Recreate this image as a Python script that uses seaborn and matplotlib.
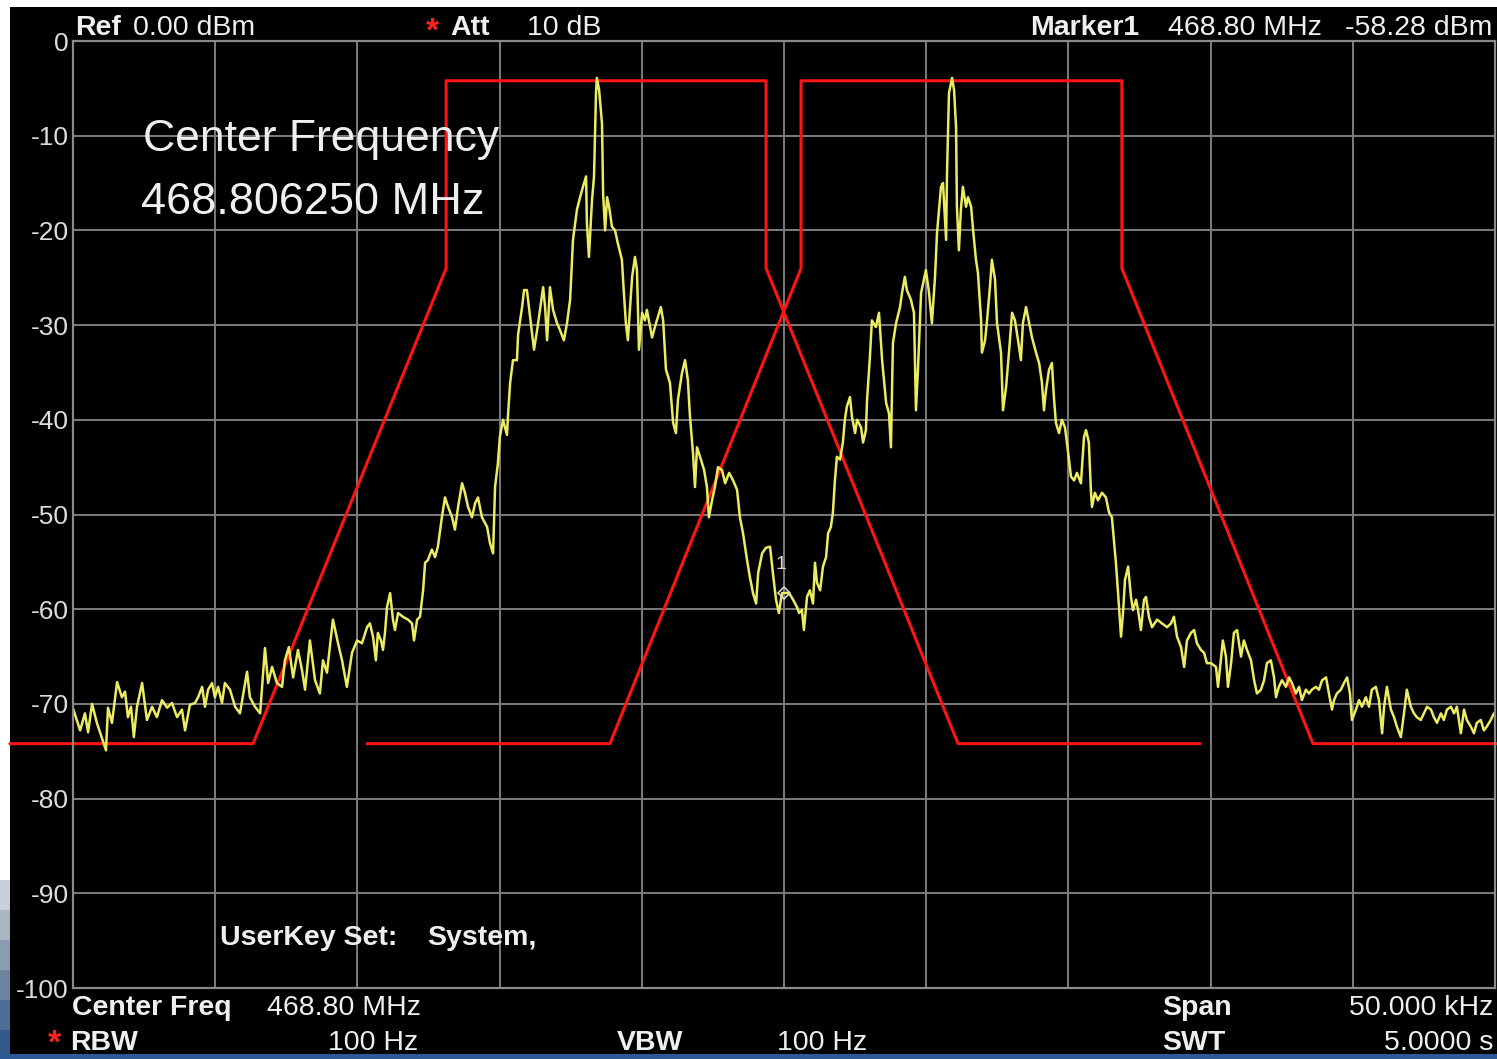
import matplotlib
matplotlib.use("Agg")
import numpy as np
import matplotlib.pyplot as plt
from matplotlib import font_manager
from matplotlib.patches import Rectangle
import seaborn as sns

# ---- measured trace: offset from centre frequency (kHz) and level (dBm) ----
freq_khz = [
    -25.04, -24.75, -24.58, -24.47, -24.33, -24.16, -24.05, -23.84, -23.77, -23.63,
    -23.45, -23.28, -23.17, -23.07, -22.96, -22.86, -22.75, -22.57, -22.40, -22.22,
    -22.05, -21.87, -21.69, -21.52, -21.34, -21.17, -21.06, -20.89, -20.71, -20.60,
    -20.46, -20.36, -20.25, -20.11, -20.01, -19.90, -19.76, -19.66, -19.48, -19.30,
    -19.13, -18.88, -18.78, -18.60, -18.42, -18.25, -18.14, -18.00, -17.83, -17.65,
    -17.55, -17.41, -17.26, -17.09, -16.95, -16.84, -16.67, -16.49, -16.32, -16.21,
    -16.07, -15.86, -15.68, -15.54, -15.37, -15.19, -15.01, -14.84, -14.66, -14.56,
    -14.45, -14.35, -14.28, -14.17, -14.10, -14.03, -13.96, -13.85, -13.75, -13.68,
    -13.57, -13.40, -13.22, -13.08, -13.01, -12.90, -12.80, -12.69, -12.62, -12.52,
    -12.38, -12.27, -12.17, -12.03, -11.92, -11.81, -11.67, -11.57, -11.46, -11.32,
    -11.22, -11.11, -10.97, -10.86, -10.76, -10.62, -10.44, -10.34, -10.23,
    -10.16, -10.06, -9.99, -9.88, -9.74, -9.70, -9.63, -9.53, -9.39, -9.35,
    -9.21, -9.14, -9.04, -8.93, -8.79, -8.68, -8.58, -8.47, -8.40, -8.33,
    -8.23, -8.12, -7.98, -7.88, -7.74, -7.63, -7.52,
    -7.42, -7.28, -7.17, -7.07, -6.96, -6.93, -6.86, -6.75, -6.68, -6.61,
    -6.58, -6.50, -6.40, -6.36, -6.29, -6.22, -6.15, -6.05, -5.94, -5.84,
    -5.70, -5.63, -5.56, -5.49, -5.34, -5.24, -5.17, -5.10, -4.99, -4.89,
    -4.82, -4.64, -4.50, -4.33, -4.25, -4.15, -4.01, -3.90, -3.80, -3.73,
    -3.59, -3.48, -3.38,
    -3.31, -3.20, -3.13, -3.06, -2.92, -2.81, -2.71, -2.64, -2.53, -2.43,
    -2.32, -2.18, -2.07, -1.93, -1.79, -1.65, -1.55, -1.44, -1.30, -1.20,
    -1.09, -0.98, -0.91, -0.77, -0.63, -0.49, -0.39, -0.28, -0.18, -0.07,
    0.00, 0.18, 0.32, 0.46, 0.53, 0.63, 0.70, 0.81, 0.91, 1.02,
    1.09, 1.16, 1.27, 1.37, 1.48, 1.55, 1.65, 1.72, 1.79, 1.86,
    1.97, 2.07, 2.14, 2.21, 2.32, 2.39, 2.50, 2.57, 2.71, 2.78, 2.88,
    2.92, 3.02, 3.09, 3.23, 3.34, 3.45, 3.59, 3.69, 3.76, 3.83,
    3.94, 4.08, 4.15, 4.25, 4.32, 4.46, 4.57, 4.64, 4.71, 4.82,
    4.92, 4.99, 5.10, 5.20, 5.31, 5.38, 5.52, 5.59, 5.70, 5.73,
    5.80, 5.91, 5.98, 6.05, 6.08, 6.15, 6.22, 6.29, 6.40, 6.47,
    6.58, 6.65, 6.75, 6.82, 6.93, 6.96, 7.07, 7.14, 7.24, 7.31,
    7.42, 7.49, 7.63, 7.70, 7.81, 7.91, 8.02, 8.12, 8.23, 8.33,
    8.40, 8.51, 8.62, 8.72, 8.86, 8.97,
    9.07, 9.14, 9.21, 9.32, 9.42, 9.49, 9.56, 9.67, 9.77, 9.88,
    9.98, 10.09, 10.20, 10.30, 10.44, 10.55, 10.62, 10.72, 10.79, 10.83,
    10.93, 11.04, 11.18, 11.32, 11.43, 11.53, 11.60, 11.67, 11.74, 11.85,
    11.92, 11.99, 12.10, 12.20, 12.27, 12.38, 12.45, 12.55, 12.66, 12.73,
    12.83, 12.94, 13.12, 13.29, 13.47, 13.61, 13.71, 13.82, 13.96, 14.07,
    14.17, 14.31, 14.42, 14.52, 14.66, 14.77, 14.87, 15.01,
    15.19, 15.26, 15.36, 15.43, 15.54, 15.61, 15.72, 15.82, 15.93, 16.07,
    16.17, 16.28, 16.42, 16.53, 16.63, 16.77, 16.88, 16.98, 17.12, 17.23,
    17.30, 17.40, 17.51, 17.65, 17.76, 17.86, 18.00, 18.11, 18.21, 18.35,
    18.46, 18.56, 18.70, 18.81, 18.92, 19.06, 19.16, 19.27, 19.34, 19.44,
    19.58, 19.69, 19.80, 19.90, 19.97, 20.11, 20.22, 20.32, 20.46, 20.57,
    20.67, 20.81, 20.92, 21.03, 21.10, 21.20, 21.34, 21.45, 21.55, 21.69,
    21.80, 21.90, 22.04, 22.15, 22.25, 22.39, 22.50, 22.61, 22.75, 22.85,
    22.96, 23.10, 23.20, 23.31, 23.45, 23.56, 23.66, 23.80, 23.91, 24.01,
    24.15, 24.26, 24.36, 24.50, 24.61, 24.71, 24.85, 24.96,
]
level_dbm = [
    -70.1, -72.8, -71.0, -73.0, -70.0, -72.0, -73.0, -74.9, -70.4, -72.0,
    -67.7, -69.3, -68.7, -71.4, -70.3, -73.5, -70.3, -67.8, -71.7, -70.3,
    -71.4, -69.6, -70.4, -69.9, -71.4, -70.6, -72.8, -70.1, -69.9, -69.3,
    -68.2, -70.3, -68.5, -67.8, -69.3, -68.2, -69.9, -67.8, -68.5, -70.3,
    -71.0, -66.6, -69.3, -70.3, -71.0, -64.1, -67.8, -66.1, -67.8, -68.2,
    -65.4, -64.0, -67.2, -64.3, -66.4, -68.5, -63.3, -67.5, -68.9, -65.4,
    -66.7, -61.1, -63.6, -65.4, -68.2, -64.6, -63.3, -63.6, -61.9, -61.5,
    -62.9, -65.4, -62.5, -63.3, -64.3, -62.5, -59.8, -58.3, -61.1, -62.2,
    -60.4, -60.8, -61.1, -61.5, -63.3, -61.1, -60.8, -58.0, -55.1, -54.8,
    -53.7, -54.5, -53.4, -50.3, -48.2, -49.2, -50.3, -51.6, -49.2, -46.7,
    -47.7, -49.2, -50.3, -48.8, -48.2, -50.3, -51.3, -53.0, -54.1,
    -47.1, -44.6, -41.8, -40.0, -41.6, -39.3, -36.1, -33.7, -33.7, -31.0,
    -28.1, -26.3, -26.3, -29.1, -32.6, -30.5, -28.4, -26.0, -28.1, -31.6,
    -26.0, -28.4, -29.8, -30.5, -31.6, -29.8, -27.3,
    -21.0, -17.8, -16.5, -15.4, -14.3, -19.2, -22.8, -16.8, -14.3, -5.5,
    -3.9, -5.2, -8.7, -16.1, -20.0, -16.5, -17.5, -19.6, -20.0, -21.4,
    -23.1, -26.6, -29.8, -31.6, -24.9, -22.8, -24.2, -32.6, -28.7, -29.5,
    -28.4, -31.3, -29.8, -28.1, -29.5, -34.7, -36.1, -40.3, -41.4, -37.9,
    -35.1, -33.7, -35.8,
    -39.5, -43.5, -47.1, -42.9, -44.2, -45.3, -47.1, -50.3, -48.5, -47.1,
    -45.0, -45.3, -46.7, -45.6, -46.4, -47.4, -50.3, -52.0, -54.8, -56.6,
    -58.3, -59.4, -56.2, -54.1, -53.5, -53.4, -56.2, -59.0, -60.4, -58.3,
    -58.28, -58.3, -59.0, -59.8, -60.4, -60.1, -62.2, -58.7, -58.0, -59.4,
    -55.1, -57.2, -58.0, -55.5, -54.5, -52.0, -51.3, -49.8, -46.4, -43.9,
    -44.2, -42.4, -40.0, -38.6, -37.6, -39.7, -41.4, -40.0, -40.8, -42.4, -41.1,
    -37.9, -33.4, -29.5, -30.2, -28.7, -33.7, -38.2, -39.3, -42.9, -31.9,
    -29.8, -28.1, -26.6, -24.9, -26.3, -27.3, -28.7, -39.0, -34.7, -26.6,
    -25.2, -24.2, -26.6, -29.8, -24.9, -20.3, -15.4, -15.0, -21.0, -14.3,
    -5.5, -3.9, -5.2, -9.1, -17.5, -22.1, -17.8, -15.4, -17.5, -16.5,
    -17.5, -20.0, -23.1, -24.5, -29.5, -32.9, -31.6, -29.5, -26.0, -23.1,
    -25.2, -29.8, -32.9, -39.0, -36.5, -32.9, -28.7, -29.5, -31.6, -33.7,
    -29.8, -28.1, -29.8, -31.3, -32.9, -34.0,
    -36.1, -39.0, -36.9, -34.7, -34.0, -37.6, -40.3, -41.4, -40.0, -40.8,
    -43.2, -46.0, -46.4, -45.6, -46.7, -41.8, -41.1, -42.4, -47.4, -49.2,
    -47.7, -48.5, -47.7, -48.2, -49.8, -50.3, -52.7, -55.1, -58.0, -62.9,
    -60.4, -56.9, -55.5, -58.7, -60.1, -59.0, -60.1, -62.2, -59.0, -58.7,
    -60.8, -61.9, -61.1, -61.5, -61.9, -61.5, -60.8, -62.9, -64.0, -66.1,
    -63.3, -62.5, -62.2, -63.6, -64.3, -64.6, -65.7, -65.7,
    -66.1, -68.2, -65.4, -63.3, -65.0, -68.2, -65.7, -62.5, -62.2, -65.0,
    -63.3, -64.3, -65.4, -67.5, -68.9, -68.5, -67.5, -65.7, -65.4, -67.2,
    -69.3, -68.2, -67.5, -68.2, -67.2, -67.8, -68.9, -68.2, -69.6, -68.5,
    -68.9, -68.5, -68.2, -68.5, -67.5, -67.2, -68.9, -70.6, -69.6, -68.9,
    -68.5, -67.8, -67.2, -68.9, -71.7, -70.6, -69.6, -70.3, -69.3, -70.3,
    -68.5, -68.2, -69.6, -73.1, -70.3, -68.2, -70.6, -71.4, -72.4, -73.5,
    -71.0, -68.5, -70.3, -71.0, -71.4, -71.7, -71.0, -70.3, -70.6, -71.4,
    -72.0, -71.0, -71.7, -70.6, -70.3, -71.0, -70.3, -73.1, -70.6, -71.7,
    -72.4, -73.1, -72.0, -71.7, -72.8, -72.4, -71.7, -71.0,
]

# ---- limit-line masks (kHz offset, dBm) ----
mask_a_khz = [-27.22, -18.67, -11.88, -11.88, -0.63, -0.63, 6.12, 14.63]
mask_b_khz = [-14.66, -6.12, 0.60, 0.60, 11.88, 11.88, 18.60, 27.15]
mask_dbm = [-74.2, -74.2, -24.0, -4.2, -4.2, -24.0, -74.2, -74.2]

# ---- axis scales ----
y_ticks = [0, -10, -20, -30, -40, -50, -60, -70, -80, -90, -100]
x_grid_khz = [-25, -20, -15, -10, -5, 0, 5, 10, 15, 20, 25]

marker_khz = 0.0
marker_dbm = -58.28

W, H = 1497, 1059

sns.set_style("dark", {
    "axes.facecolor": "black",
    "figure.facecolor": "white",
    "grid.color": "#7c7c7c",
    "axes.edgecolor": "#8a8a8a",
})

names = {f.name for f in font_manager.fontManager.ttflist}
SANS = "Liberation Sans" if "Liberation Sans" in names else "DejaVu Sans"
plt.rcParams["font.family"] = [SANS, "DejaVu Sans"]
FS = 20.5  # instrument annotation size

fig = plt.figure(figsize=(W / 100, H / 100), dpi=100)
fig.patch.set_facecolor("white")

# instrument screen panel and surrounding frame
fig.patches.append(Rectangle((10 / W, 1 - 1054 / H), (W - 10) / W, 1047 / H,
                             transform=fig.transFigure, facecolor="black",
                             edgecolor="none", zorder=-2))
for i, c in enumerate(["#c8d0da", "#aab6c4", "#8c9cb0", "#6d84a0", "#4f6e96", "#35598a"]):
    y0 = 880 + i * 30
    fig.patches.append(Rectangle((0, 1 - (y0 + 30) / H), 10 / W, 30 / H,
                                 transform=fig.transFigure, facecolor=c,
                                 edgecolor="none", zorder=-2))

ax = fig.add_axes([73 / W, 1 - 988 / H, 1422 / W, 947 / H])
ax.set_facecolor("black")

sns.lineplot(x=mask_a_khz, y=mask_dbm, sort=False, estimator=None, ax=ax,
             color="#ff1414", linewidth=2.2)
ax.lines[-1].set_clip_on(False)
sns.lineplot(x=mask_b_khz, y=mask_dbm, sort=False, estimator=None, ax=ax,
             color="#ff1414", linewidth=2.2)
ax.lines[-1].set_clip_on(False)
sns.lineplot(x=freq_khz, y=level_dbm, sort=False, estimator=None, ax=ax,
             color="#ecec62", linewidth=1.8)

ax.plot([marker_khz], [marker_dbm], marker="D", markersize=6, markerfacecolor="none",
        markeredgecolor="#d8d8d8", markeredgewidth=1.2, linestyle="none")
ax.text(marker_khz - 0.12, marker_dbm + 3.0, "1", color="#d8d8d8",
        fontsize=14, ha="center", va="center")

ax.set_xlim(-25, 25)
ax.set_ylim(-100, 0)
ax.set_xticks(x_grid_khz)
ax.set_xticklabels([])
ax.set_yticks(y_ticks)
ax.set_yticklabels([str(v) for v in y_ticks])
ax.tick_params(axis="both", length=0, pad=3)
ax.tick_params(axis="y", labelcolor="#dcdcdc", labelsize=19)
ax.grid(True, color="#7c7c7c", linewidth=1.4)
ax.set_axisbelow(True)
for s in ax.spines.values():
    s.set_visible(True)
    s.set_color("#8a8a8a")
    s.set_linewidth(1.6)
ax.set_xlabel("")
ax.set_ylabel("")


def ftext(x, y, s, ha="left", size=FS, weight="normal", color="#efefef"):
    fig.text(x / W, 1 - y / H, s, ha=ha, va="center", fontsize=size,
             fontweight=weight, color=color, zorder=5)


# header line
ftext(75, 28, "Ref", weight="bold")
ftext(133, 28, "0.00 dBm")
ftext(426, 32, "*", weight="bold", size=24, color="#ff2020")
ftext(450, 28, "Att", weight="bold")
ftext(527, 28, "10 dB")
ftext(1030, 28, "Marker1", weight="bold")
ftext(1168, 28, "468.80 MHz")
ftext(1492, 28, "-58.28 dBm", ha="right")

# annotation inside the graticule
ftext(143, 140, "Center Frequency", size=32)
ftext(141, 203, "468.806250 MHz", size=32.5)
ftext(220, 938, "UserKey Set:", weight="bold")
ftext(427, 938, "System,", weight="bold")

# footer lines
ftext(72, 1008, "Center Freq", weight="bold")
ftext(267, 1008, "468.80 MHz")
ftext(1162, 1008, "Span", weight="bold")
ftext(1493, 1008, "50.000 kHz", ha="right")
ftext(48, 1044, "*", weight="bold", size=24, color="#ff2020")
ftext(70, 1043, "RBW", weight="bold")
ftext(418, 1043, "100 Hz", ha="right")
ftext(617, 1043, "VBW", weight="bold")
ftext(777, 1043, "100 Hz")
ftext(1162, 1043, "SWT", weight="bold")
ftext(1493, 1043, "5.0000 s", ha="right")

# bottom border strip of the screen
fig.patches.append(Rectangle((0, 0), 1, 5 / H, transform=fig.transFigure,
                             facecolor="#2c5a96", edgecolor="none", zorder=10))

fig.savefig("out.png", dpi=100, facecolor=fig.get_facecolor())
